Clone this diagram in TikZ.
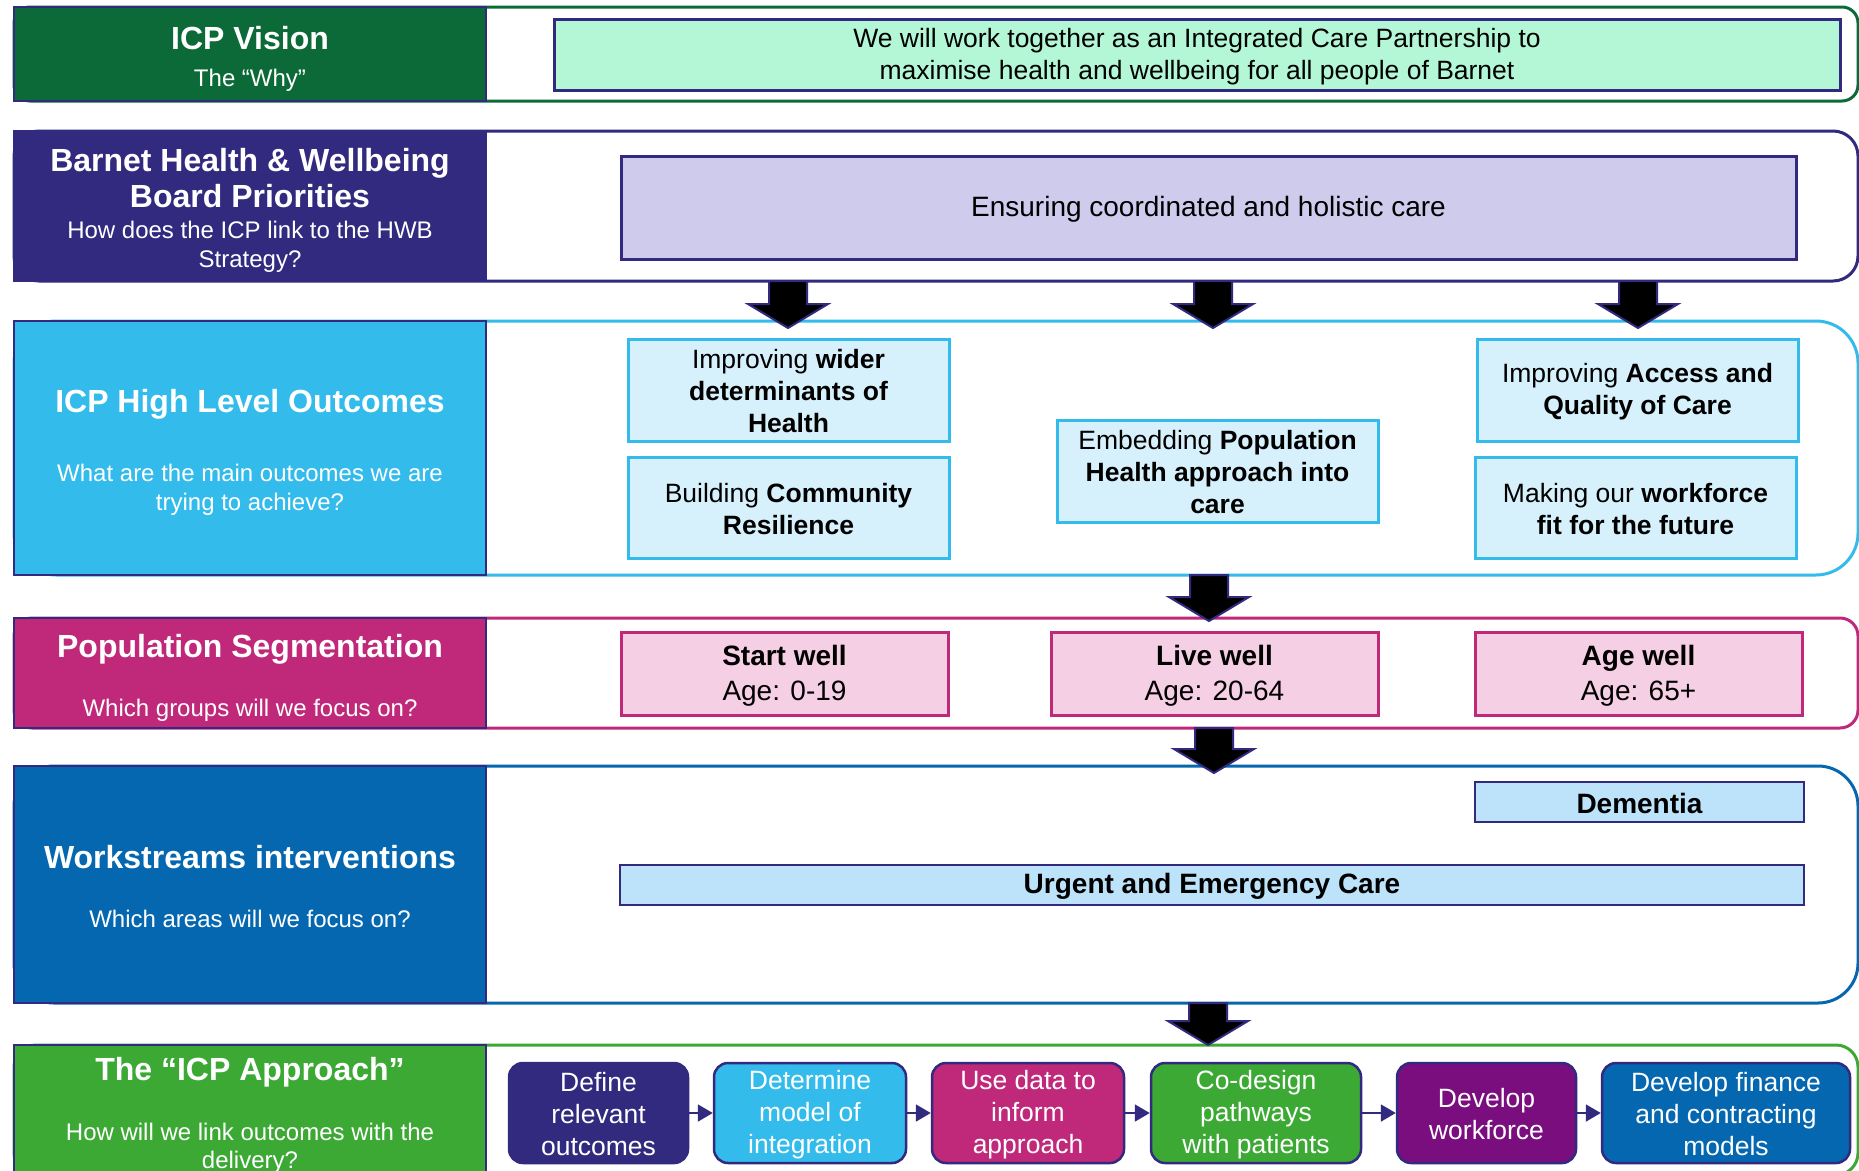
\documentclass[tikz,border=0pt]{standalone}
\usepackage{fontspec}
\setmainfont{Liberation Sans}
\usetikzlibrary{arrows.meta}

\definecolor{vgreen}{HTML}{0B6A37}
\definecolor{navy}{HTML}{312A7E}
\definecolor{sky}{HTML}{33BBEB}
\definecolor{cmag}{HTML}{C0297A}
\definecolor{cblue}{HTML}{0467B0}
\definecolor{cgreen}{HTML}{3CA935}
\definecolor{cpurple}{HTML}{7B0E7E}
\definecolor{mint}{HTML}{B3F7D6}
\definecolor{lav}{HTML}{CFCBED}
\definecolor{paleblue}{HTML}{D6F1FB}
\definecolor{pink}{HTML}{F5CFE4}
\definecolor{wsblue}{HTML}{BDE3FA}

% uniform line metrics so every text line in a box is placed the same way
\newcommand\ls{\rule[-0.05em]{0pt}{0.9em}}

\tikzset{
  rowframe/.style={line width=3pt, draw=#1},
  leftbox/.style={draw=navy, line width=2pt, fill=#1},
  head/.style={text=white, font=\fontsize{32}{36}\selectfont\bfseries, inner sep=0pt, anchor=base},
  sub/.style={text=white, font=\fontsize{24}{29}\selectfont, inner sep=0pt, anchor=base},
  outcome/.style={draw=sky, line width=3pt, fill=paleblue, align=center,
    font=\fontsize{26.5}{32}\selectfont, minimum width=321pt, minimum height=102pt, inner sep=0pt},
  seg/.style={draw=cmag, line width=3pt, fill=pink, align=center,
    font=\fontsize{28}{35}\selectfont, minimum width=327pt, minimum height=83pt, inner sep=0pt},
  work/.style={draw=navy, line width=2.5pt, fill=wsblue, font=\fontsize{28}{34}\selectfont\bfseries,
    minimum height=40pt, inner sep=0pt},
  stepbox/.style={rounded corners=14pt, draw=navy, line width=2.5pt, fill=#1, text=white, align=center,
    font=\fontsize{26.5}{32}\selectfont, minimum height=100pt, inner sep=0pt},
  flow/.style={draw=navy, line width=2pt, -{Triangle[length=15pt, width=17pt]}},
  blockarrow/.style={fill=black, draw=navy, line width=2pt, line join=miter},
}

% block arrow pointing down from a top coordinate to a tip coordinate
\newcommand\blockdown[2]{%
  \filldraw[blockarrow] ([xshift=-19pt]#1) -- ([xshift=19pt]#1)
    -- ([xshift=19pt,yshift=24pt]#2) -- ([xshift=40pt,yshift=24pt]#2) -- (#2)
    -- ([xshift=-40pt,yshift=24pt]#2) -- ([xshift=-19pt,yshift=24pt]#2) -- cycle;}

\begin{document}
\begin{tikzpicture}[x=1pt, y=-1pt]
\useasboundingbox (0,0) rectangle (1859,1170);
\clip (0,0) rectangle (1859,1170);
\fill[white] (0,0) rectangle (1859,1170);

% ---- row frames ----
\draw[rowframe=vgreen, rounded corners=16pt] (14,7) rectangle (1858,101);
\draw[rowframe=navy, rounded corners=25pt] (14,131) rectangle (1858,281);
\draw[rowframe=sky, rounded corners=42pt] (14,321) rectangle (1858,575);
\draw[rowframe=cmag, rounded corners=18pt] (14,618) rectangle (1858,728);
\draw[rowframe=cblue, rounded corners=40pt] (14,766) rectangle (1858,1003);
\draw[rowframe=cgreen, rounded corners=22pt] (14,1045) rectangle (1858,1175);

% ---- left heading boxes ----
\draw[leftbox=vgreen] (14,7) rectangle (486,101);
\draw[leftbox=navy] (14,131) rectangle (486,281);
\draw[leftbox=sky] (14,321) rectangle (486,575);
\draw[leftbox=cmag] (14,618) rectangle (486,728);
\draw[leftbox=cblue] (14,766) rectangle (486,1003);
\draw[leftbox=cgreen] (14,1045) rectangle (486,1175);

\node[head] (h1) at (250,49) {ICP Vision};
\node[sub] (s1) at (250,86) {The “Why”};

\node[head] (h2a) at (250,171) {Barnet Health \& Wellbeing};
\node[head] (h2b) at (250,207) {Board Priorities};
\node[sub] (s2a) at (250,238) {How does the ICP link to the HWB};
\node[sub] (s2b) at (250,267) {Strategy?};

\node[head] (h3) at (250,412) {ICP High Level Outcomes};
\node[sub] (s3a) at (250,481) {What are the main outcomes we are};
\node[sub] (s3b) at (250,510) {trying to achieve?};

\node[head] (h4) at (250,657) {Population Segmentation};
\node[sub] (s4) at (250,716) {Which groups will we focus on?};

\node[head] (h5) at (250,868) {Workstreams interventions};
\node[sub] (s5) at (250,927) {Which areas will we focus on?};

\node[head] (h6) at (250,1080) {The “ICP Approach”};
\node[sub] (s6a) at (250,1140) {How will we link outcomes with the};
\node[sub] (s6b) at (250,1168) {delivery?};

% ---- vision and HWB priority ----
\node[draw=navy, line width=3pt, fill=mint, align=center, font=\fontsize{26.5}{32}\selectfont,
      minimum width=1286pt, minimum height=71pt, inner sep=0pt] (vision) at (1197,54.5)
  {\ls We will work together as an Integrated Care Partnership to\\\ls maximise health and wellbeing for all people of Barnet};
\node[draw=navy, line width=3pt, fill=lav, font=\fontsize{28}{34}\selectfont,
      minimum width=1175pt, minimum height=103pt, inner sep=0pt] (hwb) at (1208.5,207.5)
  {\ls Ensuring coordinated and holistic care};

% ---- high level outcomes ----
\node[outcome] (oA) at (788.5,390) {\ls Improving \textbf{wider}\\\ls\textbf{determinants of}\\\ls\textbf{Health}};
\node[outcome, minimum height=101pt] (oB) at (788.5,507.5) {\ls Building \textbf{Community}\\\ls\textbf{Resilience}};
\node[outcome] (oC) at (1217.5,471) {\ls Embedding \textbf{Population}\\\ls\textbf{Health approach into}\\\ls\textbf{care}};
\node[outcome] (oD) at (1637.5,390) {\ls Improving \textbf{Access and}\\\ls\textbf{Quality of Care}};
\node[outcome, minimum height=101pt] (oE) at (1635.5,507.5) {\ls Making our \textbf{workforce}\\\ls\textbf{fit for the future}};

% ---- population segments ----
\node[seg] (start) at (784.5,673.5) {\ls\textbf{Start well}\\\ls Age: 0-19};
\node[seg] (live) at (1214.5,673.5) {\ls\textbf{Live well}\\\ls Age: 20-64};
\node[seg] (age) at (1638.5,673.5) {\ls\textbf{Age well}\\\ls Age: 65+};

% ---- workstreams ----
\node[work, minimum width=329pt] (dementia) at (1639.5,802) {\ls Dementia};
\node[work, minimum width=1184pt] (uec) at (1212,885) {\ls Urgent and Emergency Care};

% ---- ICP approach steps ----
\node[stepbox=navy, minimum width=179pt] (p1) at (598.5,1113) {\ls Define\\\ls relevant\\\ls outcomes};
\node[stepbox=sky, minimum width=192pt] (p2) at (810,1113) {\ls Determine\\\ls model of\\\ls integration};
\node[stepbox=cmag, minimum width=192pt] (p3) at (1028,1113) {\ls Use data to\\\ls inform\\\ls approach};
\node[stepbox=cgreen, minimum width=210pt] (p4) at (1256,1113) {\ls Co-design\\\ls pathways\\\ls with patients};
\node[stepbox=cpurple, minimum width=179pt] (p5) at (1486.5,1113) {\ls Develop\\\ls workforce};
\node[stepbox=cblue, minimum width=248pt] (p6) at (1726,1113) {\ls Develop finance\\\ls and contracting\\\ls models};

\draw[flow] (p1.east) -- (p2.west);
\draw[flow] (p2.east) -- (p3.west);
\draw[flow] (p3.east) -- (p4.west);
\draw[flow] (p4.east) -- (p5.west);
\draw[flow] (p5.east) -- (p6.west);

% ---- block arrows between rows ----
\coordinate (a1t) at (788,281);  \coordinate (a1h) at (788,328);
\coordinate (a2t) at (1213,281); \coordinate (a2h) at (1213,328);
\coordinate (a3t) at (1638,281); \coordinate (a3h) at (1638,328);
\coordinate (a4t) at (1209,575); \coordinate (a4h) at (1209,621);
\coordinate (a5t) at (1214,728); \coordinate (a5h) at (1214,773);
\coordinate (a6t) at (1208,1003); \coordinate (a6h) at (1208,1045);
\blockdown{a1t}{a1h}
\blockdown{a2t}{a2h}
\blockdown{a3t}{a3h}
\blockdown{a4t}{a4h}
\blockdown{a5t}{a5h}
\blockdown{a6t}{a6h}
\end{tikzpicture}
\end{document}
